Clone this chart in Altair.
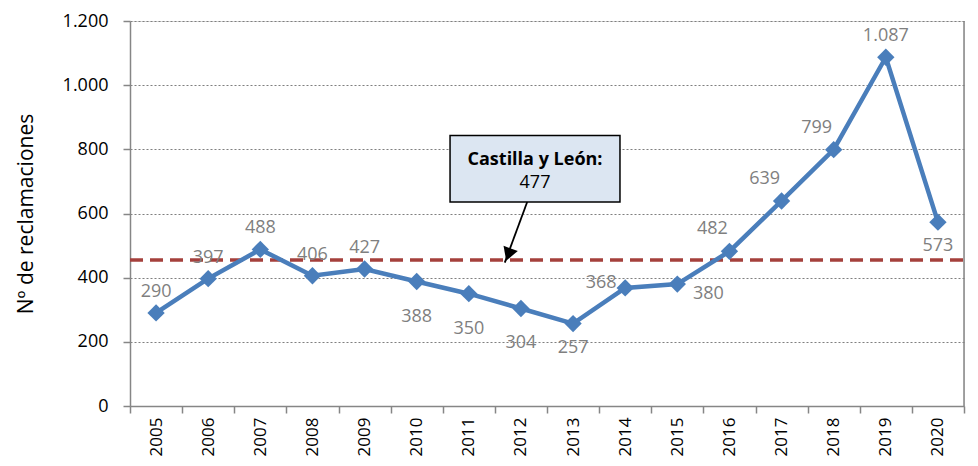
import altair as alt
import pandas as pd

# ---- data ----
years = list(range(2005, 2021))
reclamaciones = [290, 397, 488, 406, 427, 388, 350, 304, 257, 368, 380, 482, 639, 799, 1087, 573]
label_pos = ["above", "above", "above", "above", "above", "below_far", "below_far", "below_far",
             "below", "left", "right", "upper_left", "upper_left", "upper_left", "above", "below"]
y_ticks = [0, 200, 400, 600, 800, 1000, 1200]
reference_value = 455
callout_title = "Castilla y León:"
callout_value = "477"
y_title = "Nº de reclamaciones"

# ---- annotation geometry (data coordinates) ----
box_x = [2010.64]
box_x2 = [2013.90]
box_y = [636]
box_y2 = [843]
title_xy = [2012.27, 768]
value_xy = [2012.27, 696]
arrow_from = [2012.12, 636]
arrow_to = [2011.69, 447]
arrow_head = [2011.76, 472]

W, H = 834, 385
FONT = "Open Sans"

df = pd.DataFrame({"year": years, "value": reclamaciones, "pos": label_pos})

x_scale = alt.Scale(domain=[years[0] - 0.5, years[-1] + 0.5], nice=False, zero=False)
y_scale = alt.Scale(domain=[y_ticks[0], y_ticks[-1]], nice=False)

tick_vals = [y - 0.5 for y in years] + [years[-1] + 0.5]
band_px = W / len(years)

x_axis = alt.Axis(
    values=tick_vals,
    labelExpr=f"datum.value > {years[-1]} ? '' : toString(datum.value + 0.5)",
    labelAngle=-90, labelOffset=band_px / 2, labelPadding=4,
    labelFontSize=17, labelFont=FONT, labelColor="black",
    labelOverlap=False, labelFlush=False,
    grid=False, tickSize=7, tickColor="#868686", tickWidth=1.5,
    domainColor="#868686", domainWidth=1.5, title=None,
)
y_axis = alt.Axis(
    values=y_ticks,
    labelExpr="replace(format(datum.value, ','), ',', '.')",
    labelFontSize=18, labelFont=FONT, labelColor="black", labelPadding=15,
    tickSize=7, tickColor="#868686", tickWidth=1.5,
    domainColor="#868686", domainWidth=1.5,
    grid=True, gridDash=[2, 2], gridColor="#7f7f7f", gridWidth=1.2,
    title=y_title, titleFontSize=21, titleFont=FONT, titleFontWeight="normal",
    titleColor="black", titlePadding=26,
)

base = alt.Chart(df)

line = base.mark_line(color="#4A7EBB", strokeWidth=4.5).encode(
    x=alt.X("year:Q", scale=x_scale, axis=x_axis),
    y=alt.Y("value:Q", scale=y_scale, axis=y_axis),
)
points = base.mark_point(shape="diamond", filled=True, size=300, color="#4A7EBB", opacity=1).encode(
    x=alt.X("year:Q", scale=x_scale),
    y=alt.Y("value:Q", scale=y_scale),
)

offsets = {
    "above": (0, -21),
    "below": (0, 24),
    "below_far": (0, 35),
    "left": (-24, -5),
    "right": (31, 10),
    "upper_left": (-17, -22),
}
label_layers = []
for pos, (dx, dy) in offsets.items():
    label_layers.append(
        base.transform_filter(alt.datum.pos == pos)
        .transform_calculate(lbl="replace(format(datum.value, ','), ',', '.')")
        .mark_text(fontSize=18, font=FONT, color="#7F7F7F", dx=dx, dy=dy,
                   align="center", baseline="middle")
        .encode(x=alt.X("year:Q", scale=x_scale), y=alt.Y("value:Q", scale=y_scale),
                text="lbl:N")
    )

ref = alt.Chart(pd.DataFrame({"v": [reference_value]})).mark_rule(
    color="#A5403C", strokeWidth=3.5, strokeDash=[13, 7]
).encode(y=alt.Y("v:Q", scale=y_scale), x=alt.value(0), x2=alt.value(W + 6))

right_border = alt.Chart(pd.DataFrame({"a": [0]})).mark_rule(
    color="#868686", strokeWidth=1.5
).encode(x=alt.value(W), y=alt.value(0), y2=alt.value(H))

box = alt.Chart(pd.DataFrame({"x": box_x, "x2": box_x2, "y": box_y, "y2": box_y2})).mark_rect(
    fill="#DCE6F2", stroke="black", strokeWidth=1.5
).encode(
    x=alt.X("x:Q", scale=x_scale), x2="x2:Q",
    y=alt.Y("y:Q", scale=y_scale), y2="y2:Q",
)
box_title = alt.Chart(pd.DataFrame({"x": [title_xy[0]], "y": [title_xy[1]], "t": [callout_title]})).mark_text(
    fontSize=18, font=FONT, fontWeight="bold", color="black", baseline="middle"
).encode(x=alt.X("x:Q", scale=x_scale), y=alt.Y("y:Q", scale=y_scale), text="t:N")
box_value = alt.Chart(pd.DataFrame({"x": [value_xy[0]], "y": [value_xy[1]], "t": [callout_value]})).mark_text(
    fontSize=18, font=FONT, color="black", baseline="middle"
).encode(x=alt.X("x:Q", scale=x_scale), y=alt.Y("y:Q", scale=y_scale), text="t:N")

arrow = alt.Chart(pd.DataFrame({"x": [arrow_from[0]], "y": [arrow_from[1]],
                                "x2": [arrow_to[0]], "y2": [arrow_to[1]]})).mark_rule(
    color="black", strokeWidth=1.8
).encode(x=alt.X("x:Q", scale=x_scale), y=alt.Y("y:Q", scale=y_scale), x2="x2:Q", y2="y2:Q")
head = alt.Chart(pd.DataFrame({"x": [arrow_head[0]], "y": [arrow_head[1]]})).mark_point(
    shape="triangle-down", filled=True, size=230, color="black", opacity=1, angle=20
).encode(x=alt.X("x:Q", scale=x_scale), y=alt.Y("y:Q", scale=y_scale))

chart = alt.layer(
    ref, line, points, *label_layers, right_border, arrow, head, box, box_title, box_value
).properties(
    width=W, height=H,
    autosize=alt.AutoSizeParams(type="none"),
    padding={"left": 122, "top": 13, "right": 6, "bottom": 52},
).configure_view(stroke=None).configure(font=FONT)

chart.save("out.html", embed_options={"renderer": "svg", "actions": False})
